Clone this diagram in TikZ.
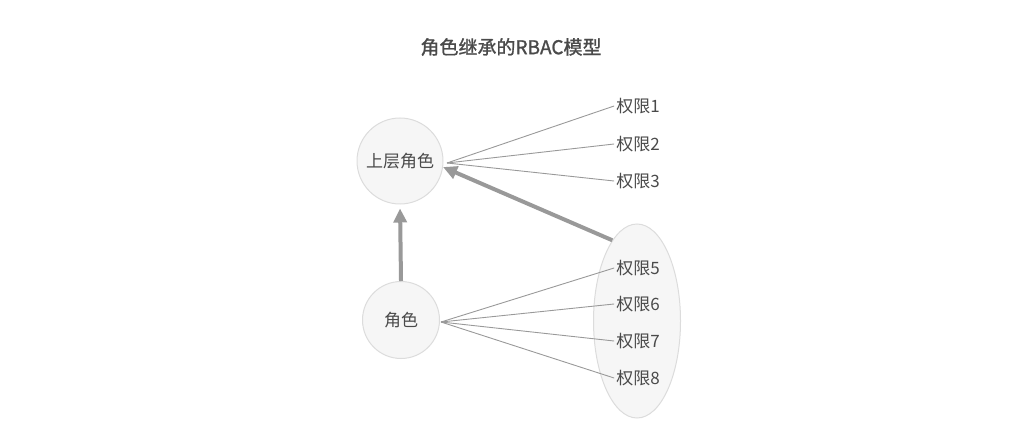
\documentclass[tikz,border=0pt]{standalone}
\usepackage{fontspec}
\setmainfont{Noto Sans CJK SC}
\newfontfamily\titlefont{Noto Sans CJK SC}[FakeBold=1.2]
\definecolor{inkgray}{HTML}{4A4A4A}
\definecolor{linegray}{HTML}{999999}
\definecolor{rimgray}{HTML}{DCDCDC}
\definecolor{fillgray}{HTML}{F6F6F6}
\usetikzlibrary{positioning, shapes.geometric, arrows.meta}

\begin{document}
\begin{tikzpicture}[x=1pt, y=-1pt,
  role/.style={circle, draw=rimgray, fill=fillgray, line width=1pt,
               inner sep=0pt, font=\fontsize{17}{19}\selectfont, text=inkgray},
  perm/.style={font=\fontsize{17}{19}\selectfont, text=inkgray, inner sep=2pt},
  link/.style={draw=linegray, line width=0.9pt},
  inherit/.style={draw=linegray, line width=4pt,
                  -{Triangle[length=14pt, width=13pt]}},
]
\useasboundingbox (0,0) rectangle (1024,430);

\node[font=\titlefont\fontsize{19}{21}\selectfont, text=inkgray] (title) at (511,47) {角色继承的RBAC模型};

% roles
\node[role, minimum size=86pt] (upper) at (400,161) {上层角色};
\node[role, minimum size=77pt] (base) at (401,320) {角色};
\node[ellipse, draw=rimgray, fill=fillgray, line width=1pt,
      minimum width=87pt, minimum height=194pt, inner sep=0pt] (group) at (637,321) {};

\coordinate (hubup) at (447,163);
\coordinate (hubbase) at (441,322);

% permissions
\node[perm] (p1) at (638,106) {权限1};
\node[perm] (p2) at (638,144) {权限2};
\node[perm] (p3) at (638,181) {权限3};
\node[perm] (p5) at (638,268) {权限5};
\node[perm] (p6) at (638,304) {权限6};
\node[perm] (p7) at (638,341) {权限7};
\node[perm] (p8) at (638,378) {权限8};

\foreach \p in {p1,p2,p3}
  \draw[link] (hubup) -- (\p.west);
\foreach \p in {p5,p6,p7,p8}
  \draw[link] (hubbase) -- (\p.west);

% inheritance
\draw[inherit] (group.107) -- (upper.-8);
\draw[inherit, shorten >=4pt] (base.north) -- (upper.south);
\end{tikzpicture}
\end{document}
